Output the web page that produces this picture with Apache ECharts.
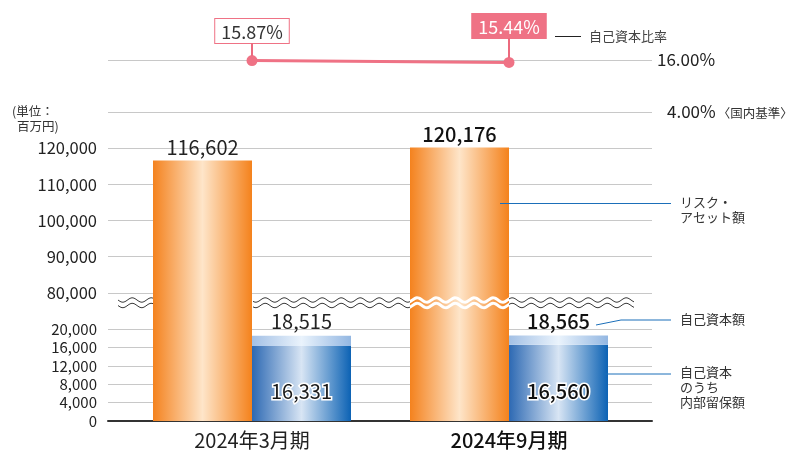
<!DOCTYPE html>
<html><head><meta charset="utf-8">
<script src="https://cdn.jsdelivr.net/npm/echarts@6/dist/echarts.min.js"></script>
<style>html,body{margin:0;padding:0;background:#fff}#c{width:790px;height:450px}</style>
</head><body><div id="c"></div>
<script>
// ---- data ----
const categories = ['2024年3月期', '2024年9月期'];
const riskAssets = [116602, 120176];      // リスク・アセット額
const ownCapital = [18515, 18565];        // 自己資本額
const retained = [16331, 16560];          // 自己資本のうち内部留保額
const capitalRatio = [15.87, 15.44];      // 自己資本比率 (%)
const lowerTicks = [0, 4000, 8000, 12000, 16000, 20000];
const upperTicks = [80000, 90000, 100000, 110000, 120000];
const ratioTickLabels = { 16: '16.00%', 4: '4.00%' };

const FONT = '"Noto Sans CJK JP", "Noto Sans", sans-serif';
const PINK = '#ef7285';
const fmt = v => v.toLocaleString('en-US');
const labelDist = [12, 19];

const orangeGrad = { type: 'linear', x: 0, y: 0, x2: 1, y2: 0, colorStops: [
  { offset: 0, color: '#f4821e' }, { offset: 0.5, color: '#fee5c9' }, { offset: 1, color: '#f4821c' }] };
const blueGrad = { type: 'linear', x: 0, y: 0, x2: 1, y2: 0, colorStops: [
  { offset: 0, color: '#2d69b3' }, { offset: 0.5, color: '#d8e5f4' }, { offset: 1, color: '#0c62b4' }] };
const lightBlueGrad = { type: 'linear', x: 0, y: 0, x2: 1, y2: 0, colorStops: [
  { offset: 0, color: '#a3c0e5' }, { offset: 0.5, color: '#eaf3fc' }, { offset: 1, color: '#93b7e2' }] };

// layout
const LL = 108, LR = 138;        // gridline extent
const BL = 123.5, BR = 152.5;    // bar plot extent
const RT = 60, RH = 52;          // ratio band
const UT = 112, UH = 217;        // upper value band (70,000 - 130,000)
const DT = 329, DH = 92;         // lower value band (0 - 20,000)

function wave(x0, x1, y, amp, period) {
  const pts = [];
  for (let x = x0; x <= x1; x += 1) pts.push([x, y + amp * Math.sin((x - 118) / period * 2 * Math.PI)]);
  return pts;
}
const waveEls = [];
[[253, 634]].forEach(([a, b]) => {
  [300, 305.5].forEach(y => waveEls.push({ type: 'polyline', z: 50, shape: { points: wave(a, b, y, 2.2, 19) },
    style: { stroke: '#fff', lineWidth: 3, fill: null } }));
});
[[118, 153], [253, 410], [509, 634]].forEach(([a, b]) => {
  [300, 305.5].forEach(y => waveEls.push({ type: 'polyline', z: 51, shape: { points: wave(a, b, y, 2.2, 19) },
    style: { stroke: '#3a3a3a', lineWidth: 1, fill: null } }));
});

const chart = echarts.init(document.getElementById('c'));
const G = (o) => Object.assign({ outerBoundsMode: 'none', containLabel: false }, o);

chart.setOption({
  animation: false,
  textStyle: { fontFamily: FONT },
  title: { text: '{a|(単位：}\n{b|百万円)}', left: 12, top: 104, padding: 0,
    textStyle: { fontSize: 12.5, lineHeight: 15, fontWeight: 'normal', color: '#333', fontFamily: FONT,
      rich: { a: { fontSize: 12.5, lineHeight: 15, color: '#333', fontFamily: FONT },
              b: { fontSize: 12.5, lineHeight: 15, color: '#333', fontFamily: FONT, padding: [0, 0, 0, 5] } } } },
  legend: {
    left: 555, top: 30, padding: 0, itemWidth: 26, itemHeight: 1, itemGap: 0,
    icon: 'rect',
    data: [{ name: '自己資本比率', itemStyle: { color: '#222' } }],
    textStyle: { fontSize: 13, color: '#444', fontFamily: FONT, padding: [0, 0, 0, 3] }
  },
  grid: [
    G({ left: BL, right: BR, top: RT, height: RH }),
    G({ left: BL, right: BR, top: UT, height: UH }),
    G({ left: BL, right: BR, top: DT, height: DH }),
    G({ left: LL, right: LR, top: RT, height: RH }),
    G({ left: LL, right: LR, top: UT, height: UH }),
    G({ left: LL, right: LR, top: DT, height: DH })
  ],
  xAxis: [
    { type: 'category', gridIndex: 0, data: categories, show: false },
    { type: 'category', gridIndex: 1, data: categories, show: false },
    { type: 'category', gridIndex: 2, data: categories,
      axisLine: { show: false }, axisTick: { show: false },
      axisLabel: { margin: 9, fontSize: 20, color: '#222', fontFamily: FONT,
        formatter: (v, i) => i === 1 ? '{b|' + v + '}' : '{a|' + v + '}',
        rich: { a: { fontSize: 20, color: '#222', fontFamily: FONT }, b: { fontSize: 20, color: '#111', fontWeight: 500, fontFamily: FONT } } } },
    { type: 'value', gridIndex: 3, show: false },
    { type: 'value', gridIndex: 4, show: false },
    { type: 'value', gridIndex: 5, axisLabel: { show: false }, axisTick: { show: false }, splitLine: { show: false },
      axisLine: { show: true, lineStyle: { color: '#333', width: 2 } } }
  ],
  yAxis: [
    { type: 'value', gridIndex: 0, min: 4, max: 16, interval: 12, show: false },
    { type: 'value', gridIndex: 1, min: 70000, max: 130000, interval: 10000, show: false },
    { type: 'value', gridIndex: 2, min: 0, max: 20000, interval: 4000, show: false },
    { type: 'value', gridIndex: 3, position: 'right', min: 4, max: 16, interval: 12,
      axisLine: { show: false }, axisTick: { show: false },
      splitLine: { lineStyle: { color: '#c8c8c8', width: 1 } },
      axisLabel: { margin: 5, formatter: v => v === 16 ? '{a|' + ratioTickLabels[16] + '}' : '{b|' + ratioTickLabels[4] + '}{c|〈国内基準〉}',
        rich: { a: { fontSize: 17, color: '#222', fontFamily: FONT },
                b: { fontSize: 17, color: '#222', fontFamily: FONT, padding: [0, 0, 0, 10] },
                c: { fontSize: 12.5, color: '#333', fontFamily: FONT, padding: [2, 0, 0, 2] } } } },
    { type: 'value', gridIndex: 4, min: 70000, max: 130000, interval: 10000,
      axisLine: { show: false }, axisTick: { show: false },
      splitLine: { lineStyle: { color: '#c8c8c8', width: 1 } },
      axisLabel: { margin: 11, fontSize: 16.5, color: '#222', fontFamily: FONT,
        formatter: v => upperTicks.includes(v) ? fmt(v) : '' } },
    { type: 'value', gridIndex: 5, min: 0, max: 20000, interval: 4000,
      axisLine: { show: false }, axisTick: { show: false },
      splitLine: { lineStyle: { color: '#c8c8c8', width: 1 } },
      axisLabel: { margin: 11, fontSize: 15, color: '#222', fontFamily: FONT, lineHeight: 16,
        formatter: v => lowerTicks.includes(v) ? fmt(v) : '' } }
  ],
  series: [
    { name: '自己資本比率', type: 'line', xAxisIndex: 0, yAxisIndex: 0, z: 10,
      data: capitalRatio.map((v, i) => ({ value: v, label: i === 0
        ? { distance: labelDist[0], backgroundColor: '#fff', borderColor: PINK, borderWidth: 1, color: '#333' }
        : { distance: labelDist[1], backgroundColor: PINK, borderColor: PINK, borderWidth: 1, color: '#fff' } })),
      symbol: 'circle', symbolSize: 11, itemStyle: { color: PINK },
      lineStyle: { color: PINK, width: 3 },
      label: { show: true, position: 'top', fontSize: 18, fontFamily: FONT, padding: [4, 6, 2, 6],
        formatter: p => p.value.toFixed(2) + '%' } },
    { name: 'connector', type: 'custom', xAxisIndex: 0, yAxisIndex: 0, z: 100, zlevel: 1, silent: true,
      data: capitalRatio.map((v, i) => [i, v]),
      renderItem: (params, api) => {
        const idx = params.dataIndex;
        const p = api.coord([idx, capitalRatio[idx]]);
        const d = labelDist[idx];
        return { type: 'rect', shape: { x: p[0] - 1, y: p[1] - 5.5 - d, width: 2, height: d + 1 }, style: { fill: '#ec6a7e' } };
      } },
    { name: 'リスク・アセット額', type: 'bar', xAxisIndex: 1, yAxisIndex: 1, data: riskAssets,
      barWidth: 99, barGap: '0%', itemStyle: { color: orangeGrad },
      label: { show: true, position: 'top', distance: 3, fontSize: 20, fontFamily: FONT, color: '#222',
        formatter: p => p.dataIndex === 1 ? '{b|' + fmt(p.value) + '}' : fmt(p.value),
        rich: { b: { fontSize: 20, fontWeight: 500, fontFamily: FONT, color: '#111' } } } },
    { name: 'dummy', type: 'bar', xAxisIndex: 1, yAxisIndex: 1, data: ['-', '-'], barWidth: 99, barGap: '0%' },
    { name: 'リスク・アセット額(下)', type: 'bar', xAxisIndex: 2, yAxisIndex: 2, data: riskAssets,
      barWidth: 99, barGap: '0%', itemStyle: { color: orangeGrad } },
    { name: '内部留保額', type: 'bar', xAxisIndex: 2, yAxisIndex: 2, stack: 'cap', data: retained,
      barWidth: 99, barGap: '0%', itemStyle: { color: blueGrad },
      label: { show: true, position: 'insideBottom', distance: 20, fontSize: 20, fontFamily: FONT, color: '#1a1a1a',
        textBorderColor: '#fff', textBorderWidth: 3,
        formatter: p => p.dataIndex === 1 ? '{b|' + fmt(p.value) + '}' : fmt(p.value),
        rich: { b: { fontSize: 20, fontWeight: 500, fontFamily: FONT, color: '#111', textBorderColor: '#fff', textBorderWidth: 3 } } } },
    { name: '自己資本額', type: 'bar', xAxisIndex: 2, yAxisIndex: 2, stack: 'cap',
      data: ownCapital.map((v, i) => v - retained[i]),
      barWidth: 99, barGap: '0%', itemStyle: { color: lightBlueGrad },
      label: { show: true, position: 'top', distance: 4, fontSize: 20, fontFamily: FONT, color: '#222',
        formatter: p => p.dataIndex === 1 ? '{b|' + fmt(ownCapital[p.dataIndex]) + '}' : fmt(ownCapital[p.dataIndex]),
        rich: { b: { fontSize: 20, fontWeight: 500, fontFamily: FONT, color: '#111' } } } }
  ],
  graphic: [
    ...waveEls,
    { type: 'text', left: 680, top: 195, style: { text: 'リスク・\nアセット額', font: '13px ' + FONT, lineHeight: 15, fill: '#333' } },
    { type: 'text', left: 680, top: 312, style: { text: '自己資本額', font: '13px ' + FONT, lineHeight: 15, fill: '#333' } },
    { type: 'text', left: 680, top: 365, style: { text: '自己資本\nのうち\n内部留保額', font: '13px ' + FONT, lineHeight: 15, fill: '#333' } },
    { type: 'line', z: 60, shape: { x1: 500, y1: 203.5, x2: 671, y2: 203.5 }, style: { stroke: '#1b6fb9', lineWidth: 1 } },
    { type: 'polyline', z: 60, shape: { points: [[596, 325], [621, 320], [671, 320]] }, style: { stroke: '#1b6fb9', lineWidth: 1, fill: null } },
    { type: 'line', z: 60, shape: { x1: 603, y1: 374, x2: 671, y2: 374 }, style: { stroke: '#1b6fb9', lineWidth: 1 } }
  ]
});
</script></body></html>
